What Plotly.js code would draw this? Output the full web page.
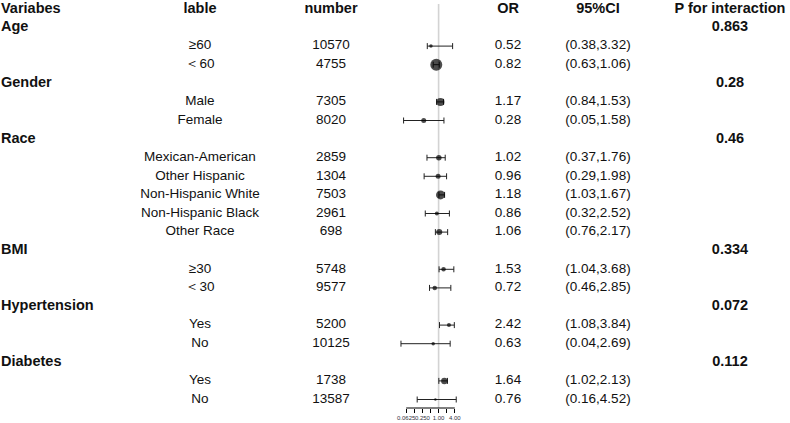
<!DOCTYPE html>
<html>
<head>
<meta charset="utf-8">
<script src="https://cdn.plot.ly/plotly-3.0.1.min.js"></script>
<style>html,body{margin:0;padding:0;background:#fff;}#chart{width:790px;height:423px;}</style>
</head>
<body>
<div id="chart"></div>
<script>
// ---- data ----
const groups = ["Age", "Gender", "Race", "BMI", "Hypertension", "Diabetes"];
const pInteraction = ["0.863", "0.28", "0.46", "0.334", "0.072", "0.112"];
const groupSizes = [2, 2, 5, 2, 2, 2];
const subgroups = ["≥60", "＜60", "Male", "Female", "Mexican-American", "Other Hispanic",
  "Non-Hispanic White", "Non-Hispanic Black", "Other Race", "≥30", "＜30", "Yes", "No", "Yes", "No"];
const numbers = [10570, 4755, 7305, 8020, 2859, 1304, 7503, 2961, 698, 5748, 9577, 5200, 10125, 1738, 13587];
const orValues = [0.52, 0.82, 1.17, 0.28, 1.02, 0.96, 1.18, 0.86, 1.06, 1.53, 0.72, 2.42, 0.63, 1.64, 0.76];
const ciLower = [0.38, 0.63, 0.84, 0.05, 0.37, 0.29, 1.03, 0.32, 0.76, 1.04, 0.46, 1.08, 0.04, 1.02, 0.16];
const ciUpper = [3.32, 1.06, 1.53, 1.58, 1.76, 1.98, 1.67, 2.52, 2.17, 3.68, 2.85, 3.84, 2.69, 2.13, 4.52];
const headers = ["Variabes", "lable", "number", "OR", "95%CI", "P for interaction"];
const tickVals = [0.0625, 0.125, 0.25, 0.5, 1, 2, 4];
const tickText = ["0.0625", "", "0.250", "", "1.00", "", "4.00"];

// ---- style (marker box sizes, px) ----
const boxSize = [3.5, 12, 8, 5, 5.5, 5, 9, 4, 6, 4.5, 4.5, 4, 3.5, 6.5, 2.5];
const FONT = "Liberation Sans, Arial, sans-serif";
const colX = {variable: 1, label: 200, number: 331, or: 508, ci: 598, p: 730};

// ---- build rows ----
const grpRow = [], grpName = [], grpP = [];
const subRow = [];
let r = 0;
groups.forEach((g, gi) => {
  r += 1;
  grpRow.push(r); grpName.push(g); grpP.push(pInteraction[gi]);
  for (let j = 0; j < groupSizes[gi]; j++) { r += 1; subRow.push(r); }
});

const boldFont = {family: FONT, size: 14.5, color: "#111", weight: "bold"};
const regFont = {family: FONT, size: 13.5, color: "#111"};

const traces = [];
function textTrace(xs, ys, texts, font, pos) {
  return {type: "scatter", mode: "text", xaxis: "x2", yaxis: "y", x: xs, y: ys, text: texts,
    textposition: pos || "middle center", textfont: font, cliponaxis: false, hoverinfo: "skip", showlegend: false};
}
// headers
const hdrX = [colX.variable, colX.label, colX.number, colX.or, colX.ci, colX.p];
traces.push(textTrace([hdrX[0]], [0], [headers[0]], boldFont, "middle right"));
traces.push(textTrace(hdrX.slice(1), hdrX.slice(1).map(() => 0), headers.slice(1), boldFont));
// group names and p
traces.push(textTrace(grpRow.map(() => colX.variable), grpRow, grpName, boldFont, "middle right"));
traces.push(textTrace(grpRow.map(() => colX.p), grpRow, grpP, boldFont));
// subgroup columns
traces.push(textTrace(subRow.map(() => colX.label), subRow, subgroups, regFont));
traces.push(textTrace(subRow.map(() => colX.number), subRow, numbers.map(String), regFont));
traces.push(textTrace(subRow.map(() => colX.or), subRow, orValues.map(v => v.toFixed(2)), regFont));
traces.push(textTrace(subRow.map(() => colX.ci), subRow,
  ciLower.map((v, i) => "(" + v.toFixed(2) + "," + ciUpper[i].toFixed(2) + ")"), regFont));

// forest points
traces.push({
  type: "scatter", mode: "markers", xaxis: "x", yaxis: "y",
  x: orValues, y: subRow,
  marker: {color: "#000", size: boxSize, line: {width: 0}},
  error_x: {type: "data", symmetric: false,
    array: ciUpper.map((u, i) => u - orValues[i]),
    arrayminus: ciLower.map((l, i) => orValues[i] - l),
    color: "#222", thickness: 1, width: 3},
  cliponaxis: false, hoverinfo: "skip", showlegend: false
});

// axis geometry: 1.0 at ~438.6px, 8.1px per doubling
const W = 790, H = 423, mb = 15;
const pxL = 398, pxR = 466, px1 = 438.6, pxPerDbl = 8.1;
const lo = Math.log10(Math.pow(2, (pxL - px1) / pxPerDbl));
const hi = Math.log10(Math.pow(2, (pxR - px1) / pxPerDbl));
const rowTop = 8.9, rowStep = 18.6, plotH = H - mb;

const layout = {
  width: W, height: H,
  margin: {l: 0, r: 0, t: 0, b: mb, pad: 0},
  paper_bgcolor: "#fff", plot_bgcolor: "rgba(0,0,0,0)",
  showlegend: false,
  xaxis: {type: "log", domain: [pxL / W, pxR / W], range: [lo, hi], anchor: "y",
    tickvals: tickVals, ticktext: tickText, ticks: "outside", ticklen: 3.5, tickwidth: 1, tickcolor: "#000",
    showgrid: false, zeroline: false, showline: false,
    tickfont: {family: FONT, size: 6, color: "#334"}, tickangle: 0},
  xaxis2: {domain: [0, 1], range: [0, W], anchor: "y", visible: false, fixedrange: true},
  yaxis: {range: [(plotH - rowTop) / rowStep, -rowTop / rowStep], visible: false, fixedrange: true},
  shapes: [
    {type: "line", xref: "x", yref: "paper", x0: 1, x1: 1, y0: 0, y1: 1 - 4 / plotH,
      line: {color: "#d3d3d3", width: 1.6}, layer: "below"},
    {type: "line", xref: "x", yref: "paper", x0: tickVals[0], x1: tickVals[tickVals.length - 1], y0: 0, y1: 0,
      line: {color: "#000", width: 1}}
  ]
};

Plotly.newPlot("chart", traces, layout, {staticPlot: true, displayModeBar: false});
</script>
</body>
</html>
